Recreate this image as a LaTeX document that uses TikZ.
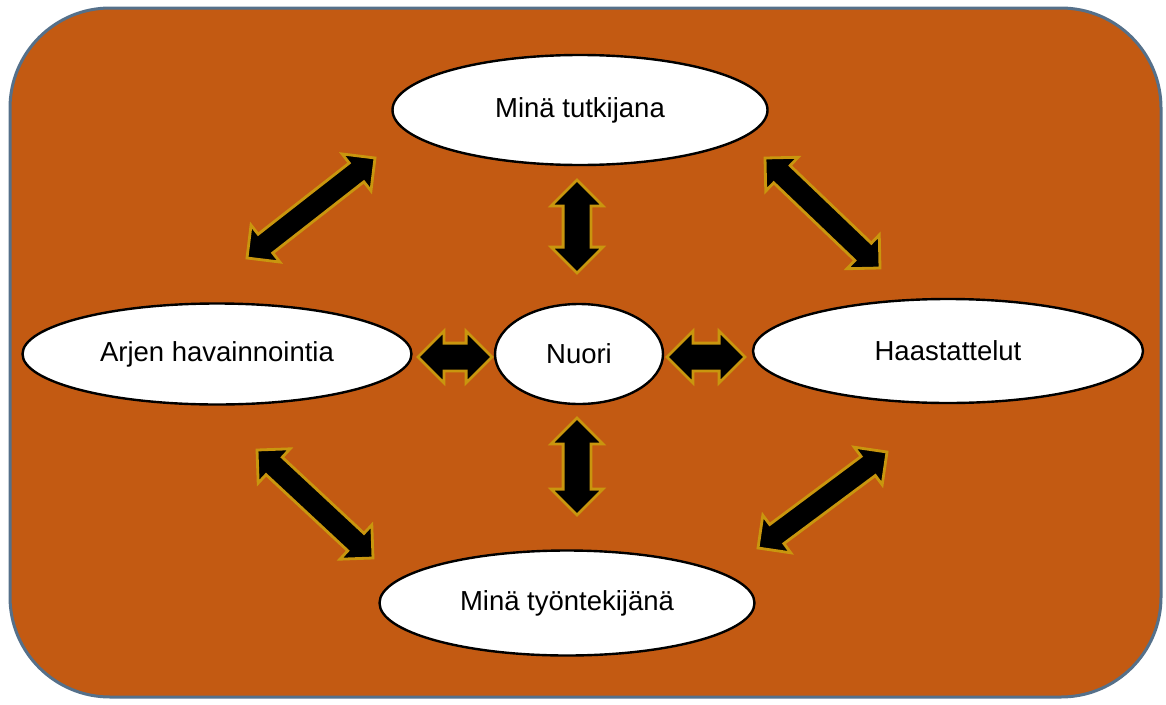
\documentclass[tikz,border=0pt]{standalone}
\usepackage{fontspec}
\setmainfont{Liberation Sans}
\usetikzlibrary{shapes.geometric,shapes.arrows,calc}
\definecolor{bgorange}{HTML}{C35A12}
\definecolor{bgborder}{HTML}{55708A}
\definecolor{arrgold}{HTML}{C9960E}
\tikzset{
  oval/.style={ellipse, draw=black, line width=2.4pt, fill=white, inner sep=0pt,
    font=\fontsize{27.5}{32}\selectfont},
  blockarr/.style={double arrow, fill=black, draw=arrgold, line width=2.8pt,
    inner xsep=0pt, inner ysep=12.5pt, minimum width=49pt, double arrow head extend=12pt,
    double arrow tip angle=90},
  diagarr/.style={blockarr, inner ysep=10.5pt, minimum width=44pt, double arrow head extend=11.5pt},
}
\newcommand{\blkarrow}[4]{% style, name, from, to
  \path let \p1=(#3), \p2=(#4), \n1={atan2(\y2-\y1,\x2-\x1)},
    \n2={veclen(\x2-\x1,\y2-\y1)} in
    ($(#3)!0.5!(#4)$) node[#1, rotate=\n1, minimum height=\n2] (#2) {};
}
\begin{document}
\begin{tikzpicture}[x=1pt,y=-1pt]
\useasboundingbox (0,0) rectangle (1166,704);
\draw[draw=bgborder, line width=3pt, fill=bgorange, rounded corners=100pt]
  (10,8) rectangle (1161,697);

\node[oval, minimum width=375pt, minimum height=110pt] (tut) at (580,110) {Minä tutkijana};
\node[oval, minimum width=168pt, minimum height=100pt] (nuori) at (579,354) {Nuori};
\node[oval, minimum width=389pt, minimum height=101pt] (arjen) at (217,354) {Arjen havainnointia};
\node[oval, minimum width=390pt, minimum height=104pt] (haas) at (948,351) {Haastattelut};
\node[oval, minimum width=375pt, minimum height=105pt] (tyo) at (567,603) {Minä työntekijänä};

\coordinate (h1a) at (418,357); \coordinate (h1b) at (492,357);
\coordinate (h2a) at (667,357); \coordinate (h2b) at (745,357);
\coordinate (v1a) at (577,180); \coordinate (v1b) at (577,273);
\coordinate (v2a) at (577,418); \coordinate (v2b) at (577,515);
\coordinate (d1a) at (247,258); \coordinate (d1b) at (375,158);
\coordinate (d2a) at (765,158); \coordinate (d2b) at (880,268);
\coordinate (d3a) at (257,450); \coordinate (d3b) at (373,558);
\coordinate (d4a) at (758,548); \coordinate (d4b) at (887,452);

\blkarrow{blockarr}{h1}{h1a}{h1b}
\blkarrow{blockarr}{h2}{h2a}{h2b}
\blkarrow{blockarr}{v1}{v1a}{v1b}
\blkarrow{blockarr}{v2}{v2a}{v2b}
\blkarrow{diagarr}{d1}{d1a}{d1b}
\blkarrow{diagarr}{d2}{d2a}{d2b}
\blkarrow{diagarr}{d3}{d3a}{d3b}
\blkarrow{diagarr}{d4}{d4a}{d4b}
\end{tikzpicture}
\end{document}
